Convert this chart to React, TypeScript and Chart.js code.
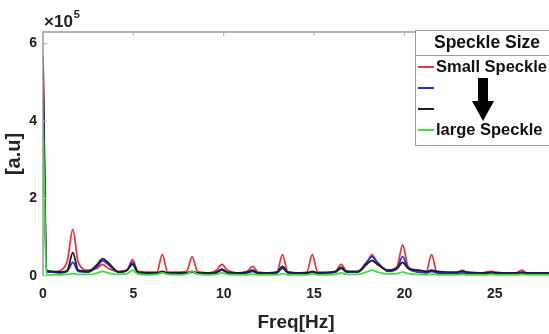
import React, { useEffect, useRef } from "react";
import { Chart, registerables } from "chart.js";

Chart.register(...registerables);

const freq = [0, 0.2, 0.5, 1.0, 1.35, 1.65, 1.95, 2.5, 3.0, 3.3, 3.6, 4.2, 4.65, 4.95, 5.25, 5.9, 6.3, 6.6, 6.9, 7.6, 7.95, 8.25, 8.55, 9.2, 9.6, 9.9, 10.2, 10.9, 11.3, 11.6, 11.9, 12.5, 12.95, 13.25, 13.55, 14.2, 14.6, 14.9, 15.2, 15.8, 16.2, 16.5, 16.8, 17.4, 17.9, 18.2, 18.5, 19.1, 19.6, 19.9, 20.2, 20.8, 21.2, 21.5, 21.8, 22.5, 22.9, 23.2, 23.5, 24.2, 24.5, 24.8, 25.1, 25.8, 26.2, 26.5, 26.8, 27.5, 28];

const redVals = [5.7, 0.12, 0.1, 0.15, 0.4, 1.2, 0.35, 0.15, 0.2, 0.3, 0.2, 0.12, 0.15, 0.42, 0.12, 0.1, 0.1, 0.55, 0.1, 0.1, 0.12, 0.5, 0.12, 0.08, 0.15, 0.3, 0.15, 0.08, 0.12, 0.25, 0.1, 0.08, 0.1, 0.55, 0.1, 0.08, 0.1, 0.55, 0.1, 0.08, 0.12, 0.3, 0.12, 0.1, 0.3, 0.55, 0.35, 0.15, 0.25, 0.8, 0.25, 0.12, 0.1, 0.55, 0.1, 0.08, 0.08, 0.15, 0.08, 0.06, 0.1, 0.12, 0.1, 0.06, 0.08, 0.15, 0.06, 0.05, 0.05];

const blueVals = [5.0, 0.12, 0.1, 0.08, 0.12, 0.35, 0.12, 0.1, 0.25, 0.4, 0.3, 0.1, 0.15, 0.35, 0.1, 0.06, 0.06, 0.1, 0.06, 0.06, 0.07, 0.1, 0.06, 0.06, 0.08, 0.15, 0.08, 0.06, 0.08, 0.12, 0.06, 0.06, 0.08, 0.2, 0.08, 0.06, 0.06, 0.1, 0.06, 0.08, 0.1, 0.2, 0.1, 0.1, 0.35, 0.5, 0.35, 0.12, 0.2, 0.5, 0.2, 0.1, 0.08, 0.12, 0.08, 0.06, 0.06, 0.08, 0.06, 0.05, 0.06, 0.08, 0.06, 0.05, 0.05, 0.06, 0.05, 0.05, 0.05];

const blackVals = [5.5, 0.15, 0.12, 0.1, 0.15, 0.6, 0.15, 0.12, 0.3, 0.45, 0.35, 0.1, 0.15, 0.3, 0.1, 0.08, 0.08, 0.12, 0.08, 0.08, 0.08, 0.12, 0.08, 0.08, 0.1, 0.18, 0.1, 0.08, 0.1, 0.15, 0.08, 0.08, 0.1, 0.25, 0.1, 0.08, 0.08, 0.12, 0.08, 0.1, 0.12, 0.22, 0.12, 0.12, 0.3, 0.4, 0.3, 0.15, 0.2, 0.35, 0.2, 0.15, 0.12, 0.15, 0.12, 0.1, 0.1, 0.12, 0.1, 0.08, 0.08, 0.1, 0.08, 0.08, 0.08, 0.1, 0.08, 0.08, 0.08];

const greenVals = [4.0, 0.03, 0.03, 0.03, 0.04, 0.06, 0.04, 0.04, 0.08, 0.12, 0.08, 0.04, 0.06, 0.15, 0.05, 0.03, 0.04, 0.08, 0.04, 0.03, 0.05, 0.12, 0.05, 0.03, 0.04, 0.08, 0.04, 0.03, 0.03, 0.05, 0.03, 0.03, 0.03, 0.06, 0.03, 0.03, 0.03, 0.05, 0.03, 0.03, 0.04, 0.08, 0.04, 0.04, 0.1, 0.15, 0.1, 0.05, 0.06, 0.1, 0.06, 0.04, 0.03, 0.05, 0.03, 0.03, 0.03, 0.04, 0.03, 0.03, 0.03, 0.04, 0.03, 0.03, 0.03, 0.04, 0.03, 0.03, 0.03];

const seriesLabels = ["Small Speckle", "", "", "large Speckle"];
const seriesColors = ["#e8383c", "#2a2ad8", "#1e1e2a", "#3ee03e"];
const xTicks = [0, 5, 10, 15, 20, 25];
const yTicks = [0, 2, 4, 6];
const legendTitle = "Speckle Size";
const xTitle = "Freq[Hz]";
const yTitle = "[a.u]";

const FONT = "'Liberation Sans', Arial, sans-serif";

const framePlugin = {
  id: "frame",
  afterDatasetsDraw(chart: any) {
    const { ctx, chartArea } = chart;
    const { left, top, right, bottom } = chartArea;
    ctx.save();
    ctx.strokeStyle = "#9a9a9a";
    ctx.lineWidth = 1.5;
    ctx.beginPath();
    ctx.moveTo(left, bottom);
    ctx.lineTo(left, top);
    ctx.lineTo(right, top);
    ctx.stroke();
    ctx.lineWidth = 1;
    ctx.strokeStyle = "#b0b0b0";
    const xs = chart.scales.x;
    const ys = chart.scales.y;
    xTicks.forEach((t) => {
      const px = xs.getPixelForValue(t);
      ctx.beginPath();
      ctx.moveTo(px, top);
      ctx.lineTo(px, top + 4);
      ctx.stroke();
    });
    yTicks.forEach((t) => {
      const py = ys.getPixelForValue(t);
      ctx.beginPath();
      ctx.moveTo(left, py);
      ctx.lineTo(left + 4, py);
      ctx.stroke();
    });
    // exponent label
    ctx.fillStyle = "#222";
    ctx.textBaseline = "alphabetic";
    ctx.textAlign = "left";
    ctx.font = `bold 17px ${FONT}`;
    ctx.fillText("\u00d710", left + 1, 27);
    const w = ctx.measureText("\u00d710").width;
    ctx.font = `bold 11px ${FONT}`;
    ctx.fillText("5", left + 2 + w, 18);

    // legend
    const lx = 415, ly = 30, lw = 140, lh = 115;
    ctx.fillStyle = "#ffffff";
    ctx.fillRect(lx, ly, lw, lh);
    ctx.strokeStyle = "#9a9a9a";
    ctx.lineWidth = 1;
    ctx.strokeRect(lx + 0.5, ly + 0.5, lw, lh);
    ctx.beginPath();
    ctx.moveTo(lx, 55.5);
    ctx.lineTo(lx + lw, 55.5);
    ctx.stroke();
    ctx.fillStyle = "#111";
    ctx.font = `bold 17.5px ${FONT}`;
    ctx.textAlign = "center";
    ctx.textBaseline = "middle";
    ctx.fillText(legendTitle, 487, 43);
    const rows = [67, 88, 109, 130];
    chart.data.datasets.forEach((ds: any, i: number) => {
      const y = rows[i];
      ctx.strokeStyle = ds.borderColor;
      ctx.lineWidth = 2;
      ctx.beginPath();
      ctx.moveTo(418, y);
      ctx.lineTo(434, y);
      ctx.stroke();
      if (ds.label) {
        ctx.fillStyle = "#111";
        ctx.textAlign = "left";
        ctx.font = `bold 16.5px ${FONT}`;
        ctx.fillText(ds.label, 436, y);
      }
    });
    // arrow
    ctx.fillStyle = "#000";
    ctx.beginPath();
    ctx.moveTo(478, 78);
    ctx.lineTo(488, 78);
    ctx.lineTo(488, 101);
    ctx.lineTo(494, 101);
    ctx.lineTo(483, 121);
    ctx.lineTo(472, 101);
    ctx.lineTo(478, 101);
    ctx.closePath();
    ctx.fill();
    ctx.restore();
  },
};

export default function App() {
  const ref = useRef<HTMLCanvasElement>(null);
  useEffect(() => {
    document.body.style.margin = "0";
    const canvas = ref.current!;
    const mk = (vals: number[]) => freq.map((f, i) => ({ x: f, y: vals[i] }));
    const allVals = [redVals, blueVals, blackVals, greenVals];
    const chart = new Chart(canvas, {
      type: "line",
      data: {
        datasets: allVals.map((v, i) => ({
          label: seriesLabels[i],
          data: mk(v),
          borderColor: seriesColors[i],
          borderWidth: 1.8,
          pointRadius: 0,
          cubicInterpolationMode: "monotone",
          fill: false,
          order: i === 3 ? 0 : 3 - i,
        })),
      },
      options: {
        animation: false,
        responsive: false,
        maintainAspectRatio: false,
        layout: { padding: { top: 32, right: 0, left: 0, bottom: 0 } },
        plugins: { legend: { display: false }, tooltip: { enabled: false } },
        scales: {
          x: {
            type: "linear",
            min: 0,
            max: 28,
            afterFit: (s: any) => { s.height = 58; },
            afterBuildTicks: (s: any) => { s.ticks = xTicks.map((v) => ({ value: v })); },
            grid: { display: false, drawTicks: false },
            border: { display: false },
            ticks: {
              color: "#222",
              font: { family: FONT, size: 14, weight: "bold" },
              padding: 10,
              maxRotation: 0,
            },
            title: {
              display: true,
              text: xTitle,
              color: "#222",
              font: { family: FONT, size: 19, weight: "bold" },
              padding: { top: 0, bottom: 0 },
            },
          },
          y: {
            min: 0,
            max: 6.3,
            afterFit: (s: any) => { s.width = 43; },
            afterBuildTicks: (s: any) => { s.ticks = yTicks.map((v) => ({ value: v })); },
            grid: { display: false, drawTicks: false },
            border: { display: false },
            ticks: {
              color: "#222",
              font: { family: FONT, size: 14, weight: "bold" },
              padding: 6,
            },
            title: {
              display: true,
              text: yTitle,
              color: "#222",
              font: { family: FONT, size: 20, weight: "bold" },
              padding: { top: 2, bottom: 2 },
            },
          },
        },
      },
      plugins: [framePlugin],
    } as any);
    return () => chart.destroy();
  }, []);
  return <canvas ref={ref} width={549} height={334} style={{ display: "block" }} />;
}
